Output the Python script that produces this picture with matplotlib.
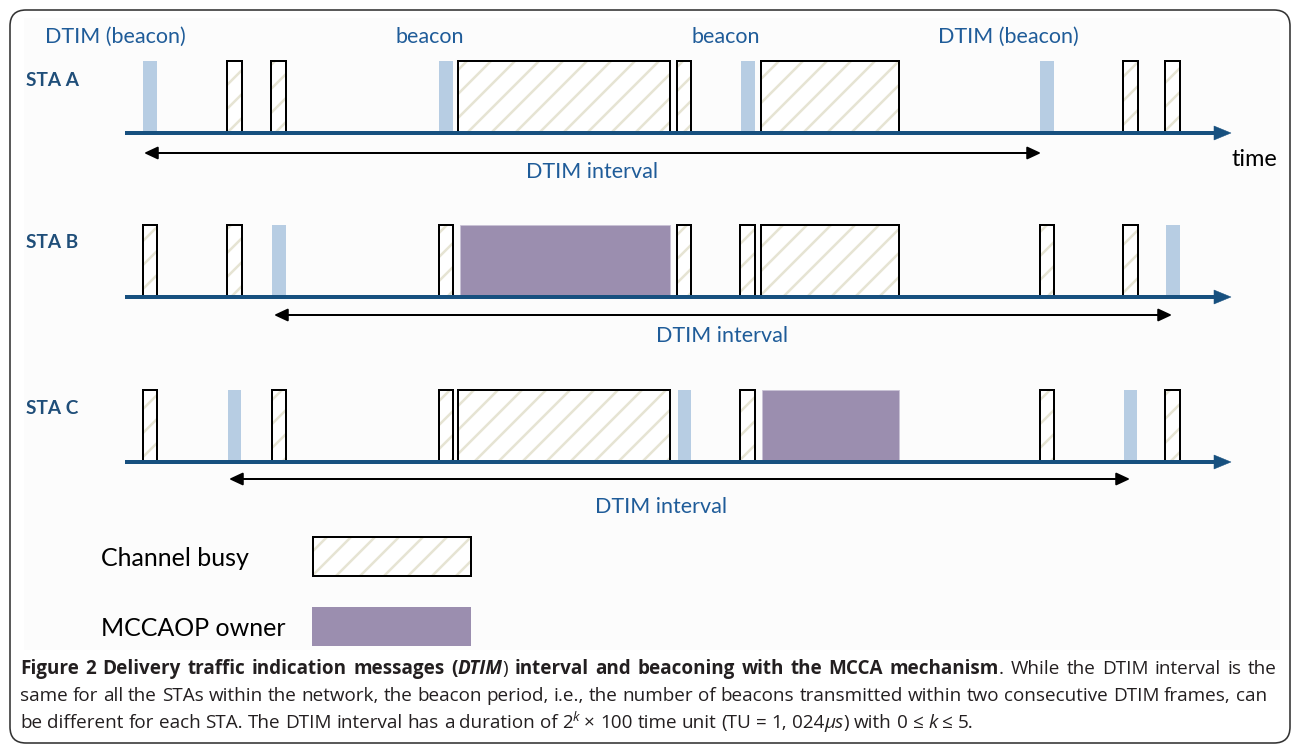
import matplotlib
matplotlib.use('Agg')
import matplotlib.pyplot as plt
from matplotlib.patches import Rectangle, FancyBboxPatch, FancyArrowPatch, Polygon

# 72 dpi -> 1 pt == 1 px, and '/' hatch spacing is 12 px like the original
W, H = 1293, 744
DPI = 72
plt.rcParams['hatch.linewidth'] = 2.5

######
# data: slots on the time axis for every station
######
stations = ['STA A', 'STA B', 'STA C']

sta_a_start = [143, 227, 271, 439, 458, 677, 741, 761, 1040, 1123, 1165]
sta_a_end = [157, 242, 286, 453, 670, 691, 755, 899, 1054, 1138, 1180]
sta_a_kind = ['beacon', 'busy', 'busy', 'beacon', 'busy', 'busy',
              'beacon', 'busy', 'beacon', 'busy', 'busy']

sta_b_start = [143, 227, 272, 439, 460, 677, 740, 761, 1040, 1123, 1166]
sta_b_end = [157, 242, 286, 453, 670, 691, 755, 899, 1054, 1138, 1180]
sta_b_kind = ['busy', 'busy', 'beacon', 'busy', 'owner', 'busy',
              'busy', 'busy', 'busy', 'busy', 'beacon']

sta_c_start = [143, 228, 272, 439, 458, 678, 740, 762, 1040, 1124, 1165]
sta_c_end = [157, 241, 286, 453, 670, 691, 755, 899, 1054, 1137, 1180]
sta_c_kind = ['busy', 'beacon', 'busy', 'busy', 'busy', 'beacon',
              'busy', 'owner', 'busy', 'beacon', 'busy']

dtim_start = [144, 274, 229]
dtim_end = [1041, 1172, 1130]

top_labels = ['DTIM (beacon)', 'beacon', 'beacon', 'DTIM (beacon)']
legend_labels = ['Channel busy', 'MCCAOP owner']

caption_lines = [
    [("Figure 2 Delivery traffic indication messages (", 'bold', 'normal', False),
     ("DTIM", 'bold', 'italic', False),
     (")", 'normal', 'normal', False),
     (" interval and beaconing with the MCCA mechanism", 'bold', 'normal', False),
     (". While the DTIM interval is the", 'normal', 'normal', False)],
    [("same for all the STAs within the network, the beacon period, i.e., the number "
      "of beacons transmitted within two consecutive DTIM frames, can", 'normal', 'normal', False)],
    [("be different for each STA. The DTIM interval has a duration of 2", 'normal', 'normal', False),
     ("k", 'normal', 'italic', True),
     (" \u00d7 100 time unit (TU = 1, 024", 'normal', 'normal', False),
     ("\u03bcs", 'normal', 'italic', False),
     (") with 0 \u2264 ", 'normal', 'normal', False),
     ("k", 'normal', 'italic', False),
     (" \u2264 5.", 'normal', 'normal', False)],
]

######
# colours / fonts
######
blue_line = '#17507f'
blue_text = '#1f5c99'
beacon_c = '#b7cde3'
owner_c = '#9b8eaf'
stripe_c = '#e6e4d3'
cap_c = '#231f20'
lab_font = ['Lato', 'DejaVu Sans']
cap_font = ['Open Sans', 'DejaVu Sans']

fig = plt.figure(figsize=(W / DPI, H / DPI), dpi=DPI)
ax = fig.add_axes([0, 0, 1, 1])
ax.set_xlim(0, W)
ax.set_ylim(H, 0)
ax.axis('off')

# frame and figure background
ax.add_patch(FancyBboxPatch((10, 10), 1280, 733, boxstyle='round,pad=0,rounding_size=16',
                            facecolor='white', edgecolor='#333333', lw=1.6))
ax.add_patch(Rectangle((24, 18), 1256, 632, facecolor='#fcfcfc', lw=0))

row_line_y = [133, 297, 462]
bar_h = 72
arrow_y = [153, 315, 479]
interval_x = [592, 722, 661]
interval_y = [172, 336, 507]
label_y = [81, 243, 408]

rows = [(sta_a_start, sta_a_end, sta_a_kind),
        (sta_b_start, sta_b_end, sta_b_kind),
        (sta_c_start, sta_c_end, sta_c_kind)]


def busy_box(x, y, w, h):
    ax.add_patch(Rectangle((x, y), w, h, facecolor='white', edgecolor=stripe_c,
                           hatch='/', lw=0))
    ax.add_patch(Rectangle((x, y), w, h, facecolor='none', edgecolor='black', lw=2))


for i, (starts, ends, kinds) in enumerate(rows):
    y = row_line_y[i]
    top = y - bar_h
    for s, e, k in zip(starts, ends, kinds):
        if k == 'beacon':
            ax.add_patch(Rectangle((s, top), e - s, bar_h, facecolor=beacon_c, lw=0))
        elif k == 'owner':
            ax.add_patch(Rectangle((s, top), e - s, bar_h, facecolor=owner_c,
                                   edgecolor='#c9c2d6', lw=0.8))
        else:
            busy_box(s, top, e - s, bar_h)
    # time axis with arrow head
    ax.plot([125, 1216], [y, y], color=blue_line, lw=4, solid_capstyle='butt')
    ax.add_patch(Polygon([(1214, y - 7), (1231, y), (1214, y + 7)], closed=True,
                         facecolor=blue_line, edgecolor=blue_line, lw=0.5))
    # DTIM interval arrow
    ax.add_patch(FancyArrowPatch((dtim_start[i], arrow_y[i]), (dtim_end[i], arrow_y[i]),
                                 arrowstyle='<|-|>,head_length=0.6,head_width=0.28',
                                 mutation_scale=19, color='black', lw=2,
                                 shrinkA=0, shrinkB=0))
    ax.text(interval_x[i], interval_y[i], 'DTIM interval', color=blue_text,
            fontsize=21.5, family=lab_font, ha='center', va='center')
    ax.text(26, label_y[i], stations[i], color='#1f4e79', fontsize=19,
            fontweight='bold', family=lab_font, ha='left', va='center')

for lab, xc in zip(top_labels, [115, 430, 726, 1008]):
    ax.text(xc, 37, lab, color=blue_text, fontsize=21.5, family=lab_font,
            ha='center', va='center')

ax.text(1232, 160, 'time', color='black', fontsize=23.5, family=lab_font,
        ha='left', va='center')

# legend
ax.text(101, 558, legend_labels[0], color='black', fontsize=25, family=lab_font,
        ha='left', va='center')
busy_box(313, 537, 158, 39)
ax.text(101, 628, legend_labels[1], color='black', fontsize=25, family=lab_font,
        ha='left', va='center')
ax.add_patch(Rectangle((312, 607), 159, 39, facecolor=owner_c, lw=0))

######
# caption, drawn word by word (justified like the journal layout)
######
fig.canvas.draw()
rend = fig.canvas.get_renderer()


def text_w(s, size, weight, style):
    t = ax.text(0, 0, s, fontsize=size, fontweight=weight, fontstyle=style, family=cap_font)
    w = t.get_window_extent(renderer=rend).width
    t.remove()
    return w


def line_width(runs, size):
    tot = 0
    for s, wt, st, sup in runs:
        tot += text_w(s, size * 0.7 if sup else size, wt, st)
    return tot


line_base = [674, 701, 728]
line_target = [1257, 1242, 978]

# one font size for the whole caption, small enough that every line fits
base = 16
cap_size = base * min(t / line_width(r, base) for r, t in zip(caption_lines, line_target))

for n, (runs, yb, target) in enumerate(zip(caption_lines, line_base, line_target)):
    tokens = []
    for s, wt, st, sup in runs:
        parts = s.split(' ')
        for j, p in enumerate(parts):
            if j > 0:
                tokens.append((' ', wt, st, sup))
            if p:
                tokens.append((p, wt, st, sup))
    widths = []
    for s, wt, st, sup in tokens:
        size = cap_size * 0.7 if sup else cap_size
        if s == ' ':
            widths.append(text_w('x x', size, wt, st) - text_w('xx', size, wt, st))
        else:
            widths.append(text_w(s, size, wt, st))
    n_sp = sum(1 for t in tokens if t[0] == ' ')
    extra = 0
    if n < 2 and n_sp:
        extra = max(0, (target - sum(widths)) / n_sp)
    x = 20
    for (s, wt, st, sup), w in zip(tokens, widths):
        if s == ' ':
            x += w + extra
            continue
        size = cap_size * 0.7 if sup else cap_size
        ax.text(x, yb - (7 if sup else 0), s, fontsize=size, fontweight=wt,
                fontstyle=st, family=cap_font, color=cap_c, va='baseline', ha='left')
        x += w

fig.savefig('out.png', dpi=DPI)
